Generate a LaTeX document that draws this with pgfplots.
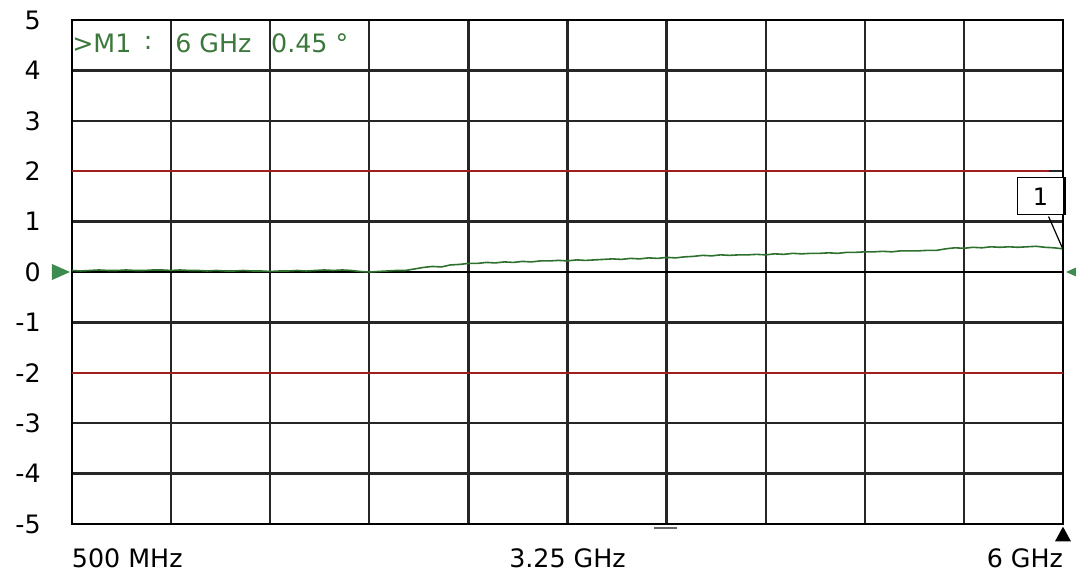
\documentclass[border=0pt]{standalone}
\usepackage{pgfplots}
\pgfplotsset{compat=1.18}
\usepackage{fontspec}
\setmainfont{DejaVu Sans}
\definecolor{trace}{RGB}{46,112,46}
\definecolor{lim}{RGB}{160,30,30}
\definecolor{tri}{RGB}{60,140,80}
\definecolor{mtext}{RGB}{60,120,60}
\begin{document}
\begin{tikzpicture}
\path[use as bounding box] (-54pt,-40.5pt) rectangle (753pt,393pt);
\begin{axis}[
  at={(0,0)}, anchor=south west,
  scale only axis, width=743.25pt, height=378pt,
  xmin=0.5, xmax=6, ymin=-5, ymax=5,
  xtick={0.5,1.05,1.6,2.15,2.7,3.25,3.8,4.35,4.9,5.45,6},
  xticklabels={\makebox[0pt][l]{500 MHz},,,,,3.25 GHz,,,,,\makebox[0pt][r]{6 GHz}},
  ytick={-5,-4,...,5},
  major tick length=0pt,
  grid=major,
  grid style={black!85, line width=1.7pt},
  major grid style={black!85, line width=1.7pt},
  axis line style={black, line width=1.8pt},
  tick label style={font=\fontsize{19}{21}\selectfont},
  /pgf/number format/assume math mode=true,
  yticklabel style={xshift=-20pt},
  xticklabel style={yshift=-15pt},
  clip=false,
]
\addplot[lim, line width=1.2pt] coordinates {(0.5,2)(5.92,2)};
\addplot[lim, line width=1.2pt] coordinates {(0.5,-2)(6,-2)};
\addplot[black, line width=1pt] coordinates {(0.5,0)(6,0)};
\addplot[trace, line width=1.2pt] coordinates {
(0.50,0.03)(0.55,0.02)(0.60,0.03)(0.65,0.04)(0.70,0.03)(0.75,0.03)(0.80,0.04)(0.85,0.03)(0.90,0.03)(0.95,0.04)
(1.00,0.04)(1.05,0.03)(1.10,0.04)(1.15,0.03)(1.20,0.03)(1.25,0.02)(1.30,0.03)(1.35,0.02)(1.40,0.02)(1.45,0.03)
(1.50,0.02)(1.55,0.02)(1.60,0.01)(1.65,0.02)(1.70,0.02)(1.75,0.03)(1.80,0.02)(1.85,0.03)(1.90,0.04)(1.95,0.03)
(2.00,0.04)(2.05,0.03)(2.10,0.01)(2.15,0.00)(2.20,0.01)(2.25,0.02)(2.30,0.03)(2.35,0.03)(2.40,0.06)(2.45,0.09)
(2.50,0.11)(2.55,0.10)(2.60,0.14)(2.65,0.15)(2.70,0.17)(2.75,0.17)(2.80,0.19)(2.85,0.18)(2.90,0.20)(2.95,0.19)
(3.00,0.21)(3.05,0.20)(3.10,0.22)(3.15,0.22)(3.20,0.23)(3.25,0.22)(3.30,0.24)(3.35,0.23)(3.40,0.24)(3.45,0.25)
(3.50,0.26)(3.55,0.25)(3.60,0.27)(3.65,0.26)(3.70,0.28)(3.75,0.27)(3.80,0.29)(3.85,0.28)(3.90,0.30)(3.95,0.31)
(4.00,0.33)(4.05,0.32)(4.10,0.34)(4.15,0.33)(4.20,0.34)(4.25,0.34)(4.30,0.35)(4.35,0.34)(4.40,0.36)(4.45,0.35)
(4.50,0.37)(4.55,0.36)(4.60,0.37)(4.65,0.37)(4.70,0.38)(4.75,0.37)(4.80,0.39)(4.85,0.39)(4.90,0.40)(4.95,0.40)
(5.00,0.41)(5.05,0.40)(5.10,0.42)(5.15,0.42)(5.20,0.42)(5.25,0.43)(5.30,0.43)(5.35,0.46)(5.40,0.48)(5.45,0.47)
(5.50,0.49)(5.55,0.48)(5.60,0.50)(5.65,0.49)(5.70,0.50)(5.75,0.49)(5.80,0.50)(5.85,0.51)(5.90,0.49)(5.95,0.48)
(6.00,0.46)};
% reference level indicators
\fill[tri] (axis cs:0.4889,0) -- (axis cs:0.389,0.159) -- (axis cs:0.389,-0.159) -- cycle;
\fill[tri] (axis cs:6.0167,0) -- (axis cs:6.1166,0.159) -- (axis cs:6.1166,-0.159) -- cycle;
\fill[black] (axis cs:6,-5.053) -- (axis cs:6.0444,-5.344) -- (axis cs:5.9556,-5.344) -- cycle;
\draw[black!60, line width=1pt] (axis cs:3.73,-5.079) -- (axis cs:3.86,-5.079);
% marker 1
\draw[black, line width=0.9pt] (axis cs:5.92,1.1) -- (axis cs:6,0.45);
\node[draw=black, fill=white, line width=0.9pt, minimum width=34.5pt, minimum height=27.75pt, inner sep=0pt,
  font=\fontsize{18}{20}\selectfont] (mk) at (axis cs:5.875,1.5) {1};
\draw[black, line width=2.2pt] (mk.north east) -- (mk.south east);
% marker readout
\begin{scope}[every node/.style={text=mtext, inner sep=0pt, font=\fontsize{19}{21}\selectfont}]
\node[anchor=west] at (axis cs:0.5,4.54) {>M1};
\node at (axis cs:0.922,4.54) {:};
\node[anchor=west] at (axis cs:1.072,4.54) {6 GHz};
\node[anchor=west] at (axis cs:1.604,4.54) {0.45 °};
\end{scope}
\end{axis}
\end{tikzpicture}
\end{document}
